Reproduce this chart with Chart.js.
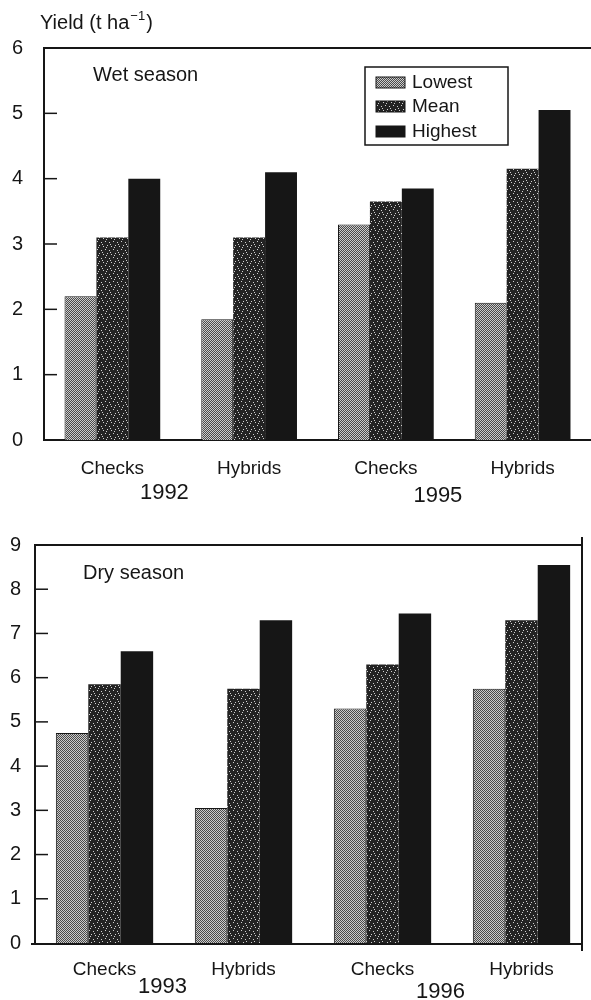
<!DOCTYPE html>
<html><head><meta charset="utf-8">
<script src="https://cdn.jsdelivr.net/npm/chart.js@4"></script>
<style>
html,body{margin:0;padding:0;background:#fff;width:591px;height:1000px;overflow:hidden;}
#c1{position:absolute;left:0;top:0;}
#c2{position:absolute;left:0;top:505px;}
</style></head><body>
<canvas id="c1" width="591" height="505"></canvas>
<canvas id="c2" width="591" height="495"></canvas>
<script>
// ---------- data ----------
const categories = ['Checks', 'Hybrids', 'Checks', 'Hybrids'];
const seriesNames = ['Lowest', 'Mean', 'Highest'];
const wetYears = ['1992', '1995'];
const dryYears = ['1993', '1996'];
const wetLowest  = [2.2, 1.85, 3.3, 2.1];
const wetMean    = [3.1, 3.1, 3.65, 4.15];
const wetHighest = [4.0, 4.1, 3.85, 5.05];
const dryLowest  = [4.75, 3.05, 5.3, 5.75];
const dryMean    = [5.85, 5.75, 6.3, 7.3];
const dryHighest = [6.6, 7.3, 7.45, 8.55];
const wetMax = 6;
const dryMax = 9;
const axisTitle = ['Yield (t ha', '\u22121', ')'];
const wetLabel = 'Wet season';
const dryLabel = 'Dry season';

// ---------- styles ----------
const FONT = "'Liberation Sans', Arial, sans-serif";
const INK = '#161616';
function makePattern(kind) {
  const c = document.createElement('canvas');
  const g = c.getContext('2d');
  if (kind === 'low') {
    c.width = 2; c.height = 2;
    g.fillStyle = '#4a4a4a'; g.fillRect(0, 0, 2, 2);
    g.fillStyle = '#cccccc'; g.fillRect(0, 0, 1, 1); g.fillRect(1, 1, 1, 1);
  } else {
    c.width = 8; c.height = 8;
    g.fillStyle = '#232323'; g.fillRect(0, 0, 8, 8);
    g.fillStyle = '#d0d0d0';
    [[1,1],[5,2],[3,5],[7,6],[2,7],[6,4]].forEach(p => g.fillRect(p[0], p[1], 1, 1));
  }
  return g.createPattern(c, 'repeat');
}
const ctx1 = document.getElementById('c1').getContext('2d');
const fills = [makePattern('low'), makePattern('mean'), INK];

function datasets(low, mean, high) {
  return [low, mean, high].map((d, i) => ({
    label: seriesNames[i], data: d, backgroundColor: fills[i],
    borderColor: INK, borderWidth: i === 0 ? 1 : 0,
    categoryPercentage: 0.70, barPercentage: 1.0
  }));
}

function decor(o) {
  return {
    id: 'decor',
    afterDraw(chart) {
      const { ctx, chartArea: a, scales: { x, y } } = chart;
      ctx.save();
      ctx.strokeStyle = INK;
      ctx.lineWidth = 2;
      // top frame line
      ctx.beginPath(); ctx.moveTo(a.left - 1, a.top); ctx.lineTo(o.topRight, a.top); ctx.stroke();
      // bottom frame line (when not using the scale border)
      if (o.bottomRight) {
        ctx.beginPath(); ctx.moveTo(a.left - 4, a.bottom + 1); ctx.lineTo(o.bottomRight, a.bottom + 1); ctx.stroke();
      }
      if (o.rightBorder) {
        ctx.beginPath(); ctx.moveTo(o.rightBorder, a.top - 8); ctx.lineTo(o.rightBorder, a.bottom + 8); ctx.stroke();
      }
      // inward tick marks
      ctx.lineWidth = 1.5;
      y.ticks.forEach(t => {
        if (t.value === 0) return;
        const py = y.getPixelForValue(t.value);
        ctx.beginPath(); ctx.moveTo(a.left, py); ctx.lineTo(a.left + 13, py); ctx.stroke();
      });
      ctx.fillStyle = INK;
      ctx.textBaseline = 'middle';
      // season label
      ctx.font = '20px ' + FONT; ctx.textAlign = 'left';
      ctx.fillText(o.season, o.seasonX, o.seasonY);
      // year labels
      ctx.font = '22px ' + FONT; ctx.textAlign = 'center';
      o.years.forEach((yr, i) => {
        ctx.fillText(yr, x.getPixelForValue(i * 2) + o.yearDx, o.yearY[i]);
      });
      // axis title
      if (o.title) {
        ctx.textAlign = 'left';
        ctx.font = '20px ' + FONT;
        let px = 40;
        ctx.fillText(o.title[0], px, 23); px += ctx.measureText(o.title[0]).width;
        ctx.font = '13px ' + FONT;
        ctx.fillText(o.title[1], px + 1, 16); px += ctx.measureText(o.title[1]).width + 2;
        ctx.font = '20px ' + FONT;
        ctx.fillText(o.title[2], px, 23);
      }
      // legend
      if (o.legend) {
        const L = o.legend;
        ctx.lineWidth = 1.5;
        ctx.strokeRect(L.x, L.y, L.w, L.h);
        ctx.font = '19px ' + FONT; ctx.textAlign = 'left';
        seriesNames.forEach((n, i) => {
          const cy = L.rows[i];
          ctx.fillStyle = fills[i];
          ctx.fillRect(L.x + 11, cy - 5, 29, 11);
          ctx.strokeStyle = INK; ctx.lineWidth = 1;
          ctx.strokeRect(L.x + 11, cy - 5, 29, 11);
          ctx.fillStyle = INK;
          ctx.fillText(n, L.x + 47, cy + 1);
        });
      }
      ctx.restore();
    }
  };
}

function options(max, yPad, yWidth, xPad, xHeight, topPad, xBorder) {
  return {
    responsive: false, animation: false, devicePixelRatio: 1,
    layout: { padding: { top: topPad, left: 0, right: 0, bottom: 0 } },
    plugins: { legend: { display: false }, tooltip: { enabled: false }, title: { display: false } },
    scales: {
      x: {
        grid: { display: false, drawTicks: false },
        border: { display: xBorder, color: INK, width: 2 },
        ticks: { color: INK, font: { family: FONT, size: 19 }, padding: xPad, maxRotation: 0 },
        afterFit: s => { s.height = xHeight; }
      },
      y: {
        min: 0, max: max,
        grid: { display: false, drawTicks: false },
        border: { display: true, color: INK, width: 2 },
        ticks: { stepSize: 1, color: INK, font: { family: FONT, size: 20 }, padding: yPad },
        afterFit: s => { s.width = yWidth; }
      }
    }
  };
}

new Chart(ctx1, {
  type: 'bar',
  data: { labels: categories, datasets: datasets(wetLowest, wetMean, wetHighest) },
  options: options(wetMax, 21, 44, 17, 65, 48, true),
  plugins: [decor({
    topRight: 591, season: wetLabel, seasonX: 93, seasonY: 75,
    years: wetYears, yearDx: 52, yearY: [493, 496], title: axisTitle,
    legend: { x: 365, y: 67, w: 143, h: 78, rows: [82, 106, 131] }
  })]
});

new Chart(document.getElementById('c2').getContext('2d'), {
  type: 'bar',
  data: { labels: categories, datasets: datasets(dryLowest, dryMean, dryHighest) },
  options: options(dryMax, 14, 35, 15, 57, 40, false),
  plugins: [decor({
    topRight: 582, rightBorder: 582, bottomRight: 582, season: dryLabel, seasonX: 83, seasonY: 68,
    years: dryYears, yearDx: 58, yearY: [482, 487]
  })]
});
</script>
</body></html>
